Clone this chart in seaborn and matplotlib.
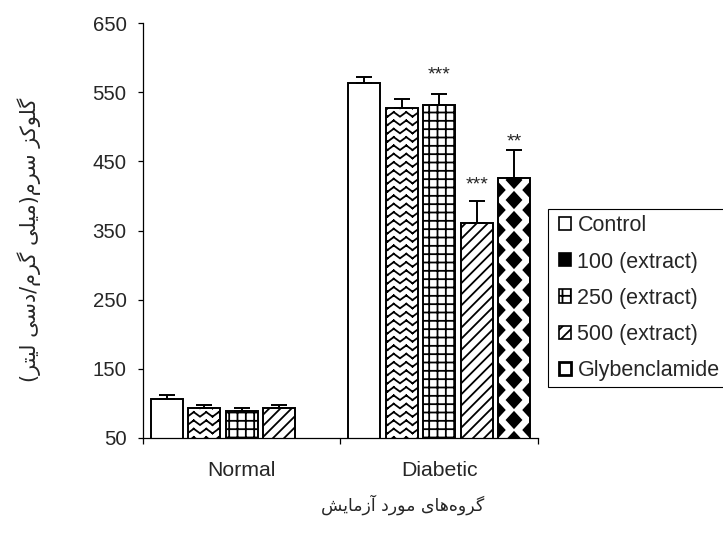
import numpy as np
import pandas as pd
import matplotlib
matplotlib.use("Agg")
import matplotlib.pyplot as plt
import seaborn as sns
from matplotlib import hatch as mhatch
from matplotlib import font_manager
from matplotlib.ft2font import FT2Font
from matplotlib.path import Path
from matplotlib.patches import Patch
from matplotlib.legend_handler import HandlerPatch

# ---------------- data ----------------
groups = ["Normal", "Diabetic"]
treatments = ["Control", "100 (extract)", "250 (extract)", "500 (extract)", "Glybenclamide"]
normal_mean = [106, 93, 88.5, 93, np.nan]
normal_err = [6, 4.5, 4.5, 4, np.nan]
diabetic_mean = [564, 528, 532, 361, 426]
diabetic_err = [8, 13, 15, 32, 40]
diabetic_sig = ["", "", "***", "***", "**"]
y_ticks = [50, 150, 250, 350, 450, 550, 650]
y_label = "گلوکز سرم(میلی گرم/دسی لیتر)"
x_label = "گروه\u200cهای مورد آزمایش"

# ---------------- Persian shaping (presentation forms, visual order) ----------------
ar_font = FT2Font(font_manager.findfont("DejaVu Sans"))


def has(cp):
    return ar_font.get_char_index(cp) != 0


FORMS = {
    "ا": (0xFE8D, 0xFE8E, None, None),
    "آ": (0xFE81, 0xFE82, None, None),
    "د": (0xFEA9, 0xFEAA, None, None),
    "ر": (0xFEAD, 0xFEAE, None, None),
    "ز": (0xFEAF, 0xFEB0, None, None),
    "و": (0xFEED, 0xFEEE, None, None),
    "ت": (0xFE95, 0xFE96, 0xFE97, 0xFE98),
    "س": (0xFEB1, 0xFEB2, 0xFEB3, 0xFEB4),
    "ش": (0xFEB5, 0xFEB6, 0xFEB7, 0xFEB8),
    "ل": (0xFEDD, 0xFEDE, 0xFEDF, 0xFEE0),
    "م": (0xFEE1, 0xFEE2, 0xFEE3, 0xFEE4),
    "ه": (0xFEE9, 0xFEEA, 0xFEEB, 0xFEEC),
    "ک": (0xFB8E, 0xFB8F, 0xFB90, 0xFB91),
    "گ": (0xFB92, 0xFB93, 0xFB94, 0xFB95),
    "ی": (0xFBFC, 0xFBFD, 0xFBFE, 0xFBFF),
}
FALLBACK = {
    "ک": (0xFED9, 0xFEDA, 0xFEDB, 0xFEDC),
    "گ": (0xFED9, 0xFEDA, 0xFEDB, 0xFEDC),
    "ی": (0xFEEF, 0xFEF0, 0xFEF3, 0xFEF4),
}
for k, v in FALLBACK.items():
    if not all(has(c) for c in FORMS[k]):
        FORMS[k] = v
RIGHT = set("اآدرزو")
DUAL = set(FORMS) - RIGHT


def shape_rtl(s):
    out = []
    for i, c in enumerate(s):
        if c not in FORMS:
            out.append(c)
            continue
        prev = s[i - 1] if i > 0 else ""
        nxt = s[i + 1] if i + 1 < len(s) else ""
        jp = prev in DUAL
        jn = c in DUAL and (nxt in DUAL or nxt in RIGHT)
        iso, fin, ini, med = FORMS[c]
        cp = med if (jp and jn) else fin if jp else ini if jn else iso
        out.append(chr(cp))
    out = [c for c in out if c != "\u200c"]
    return "".join(reversed(out)).translate(str.maketrans("()", ")("))


# ---------------- custom hatch patterns ----------------
class ZigzagHatch(mhatch.HatchPatternBase):
    def __init__(self, hatch, density):
        n = hatch.count("o")
        self.cols = 8 * n
        self.rows = 12 * n
        self.num_vertices = 0 if n == 0 else (self.rows + 2) * (2 * self.cols) * 2

    def set_vertices_and_codes(self, vertices, codes):
        half = 1.0 / (2 * self.cols)
        amp = 0.55 / self.rows
        pts = []
        for r in range(-1, self.rows + 1):
            base = r / self.rows
            for k in range(2 * self.cols):
                x0 = k * half
                ya = base + (amp if k % 2 else 0.0)
                yb = base + (0.0 if k % 2 else amp)
                pts.append((x0, ya))
                pts.append((x0 + half, yb))
        vertices[:] = np.array(pts)
        codes[0::2] = Path.MOVETO
        codes[1::2] = Path.LINETO


class DiamondHatch(mhatch.HatchPatternBase):
    x0 = 0.14

    def __init__(self, hatch, density):
        n = hatch.count("*")
        self.cols = 6 * n
        self.rows = 5 * n
        self.num_vertices = 0 if n == 0 else (self.cols + 2) * (self.rows + 2) * 5

    def set_vertices_and_codes(self, vertices, codes):
        hx, hy = 0.072, 0.078
        shape = np.array([[0, -hy], [hx, 0], [0, hy], [-hx, 0], [0, -hy]])
        sc = [Path.MOVETO, Path.LINETO, Path.LINETO, Path.LINETO, Path.CLOSEPOLY]
        parts = []
        for c in range(-1, self.cols + 1):
            x = self.x0 + c / self.cols
            shift = 0.5 / self.rows if c % 2 else 0.0
            for r in range(-1, self.rows + 1):
                parts.append(shape + [x, r / self.rows + shift])
        vertices[:] = np.concatenate(parts)
        codes[:] = sc * ((self.cols + 2) * (self.rows + 2))


mhatch._hatch_types = [t for t in mhatch._hatch_types
                       if t.__name__ not in ("SmallCircles", "Stars")] + [ZigzagHatch, DiamondHatch]

hatches = ["", "o", "++", "///", "*"]

# ---------------- style ----------------
sns.set_style("ticks")
plt.rcParams["font.family"] = ["Liberation Sans", "DejaVu Sans"]
plt.rcParams["hatch.linewidth"] = 1.3
plt.rcParams["hatch.color"] = "black"

rows = []
for g, means in zip(groups, [normal_mean, diabetic_mean]):
    for t, m in zip(treatments, means):
        rows.append({"group": g, "treatment": t, "value": m})
df = pd.DataFrame(rows).dropna()
err_table = {"Normal": normal_err, "Diabetic": diabetic_err}

fig = plt.figure(figsize=(7.23, 5.33), dpi=100)
ax = fig.add_axes([143 / 723, 1 - 437.7 / 533, 395 / 723, 414.4 / 533])

bar_width = 0.95
sns.barplot(data=df, x="group", y="value", hue="treatment", order=groups,
            hue_order=treatments, errorbar=None, width=bar_width, gap=0.15,
            palette=["white"] * 5, saturation=1, edgecolor="black",
            linewidth=1.4, legend=False, dodge=True, ax=ax)

step = bar_width / len(treatments)
ex, ey, eerr = [], [], []
sig_items = []
for p in ax.patches:
    h = p.get_height()
    if not np.isfinite(h) or p.get_width() == 0:
        continue
    cx = p.get_x() + p.get_width() / 2
    gi = int(round(cx))
    slot = int(round((cx - gi) / step + (len(treatments) - 1) / 2))
    p.set_hatch(hatches[slot])
    p.set_edgecolor("black")
    err = err_table[groups[gi]][slot]
    ex.append(cx)
    ey.append(h)
    eerr.append(err)
    if groups[gi] == "Diabetic" and diabetic_sig[slot]:
        sig_items.append((cx, h + err, diabetic_sig[slot], slot))

ax.errorbar(ex, ey, yerr=[np.zeros(len(eerr)), eerr], fmt="none", ecolor="black",
            elinewidth=1.4, capsize=5.8, capthick=1.4, zorder=1)

sig_offset = {2: 10.7, 3: 7.8, 4: 2.7}
for cx, top, lab, slot in sig_items:
    ax.annotate(lab, xy=(cx, top), xytext=(0, sig_offset[slot]), textcoords="offset points",
                ha="center", va="baseline", fontsize=14)

ax.set_xlim(-0.5, 1.5)
ax.set_ylim(50, 650)
ax.set_yticks(y_ticks)
ax.set_xticks([0, 1])
ax.set_xticklabels(groups)
ax.set_xticks([-0.5, 0.5, 1.5], minor=True)
ax.tick_params(axis="x", which="major", length=0, pad=16.5, labelsize=15.3, bottom=True)
ax.tick_params(axis="x", which="minor", length=4, width=0.9, color="black", direction="out", bottom=True)
ax.tick_params(axis="y", length=3.8, width=0.9, color="black", direction="out", pad=8, labelsize=14.7, left=True)
for s in ["top", "right"]:
    ax.spines[s].set_visible(False)
for s in ["left", "bottom"]:
    ax.spines[s].set_linewidth(0.9)
    ax.spines[s].set_color("black")

ax.set_xlabel(shape_rtl(x_label), fontsize=12.5, family=["DejaVu Sans"], va="center")
ax.xaxis.set_label_coords((403 - 143) / 395, -(505 - 437.7) / 414.4)
ax.set_ylabel(shape_rtl(y_label), fontsize=15, family=["DejaVu Sans"], va="center")
ax.yaxis.set_label_coords((29 - 143) / 395, (437.7 - 240) / 414.4)

handles = [Patch(facecolor="white", edgecolor="black", linewidth=1.2),
           Patch(facecolor="black", edgecolor="black", linewidth=1.2),
           Patch(facecolor="white", edgecolor="black", hatch="++", linewidth=1.2),
           Patch(facecolor="white", edgecolor="black", hatch="///", linewidth=1.2),
           Patch(facecolor="white", edgecolor="black", linewidth=2.0)]
leg = ax.legend(handles, treatments, loc="upper left",
                bbox_to_anchor=(548 / 723, 1 - 209 / 533), bbox_transform=fig.transFigure,
                frameon=True, fancybox=False, edgecolor="black", framealpha=1,
                fontsize=15.5, handlelength=0.79, handleheight=0.56, handletextpad=0.28,
                labelspacing=0.7, borderpad=0.3, borderaxespad=0,
                handler_map={Patch: HandlerPatch(xpad=0.23)})
leg.get_frame().set_linewidth(0.8)

fig.savefig("out.png", dpi=100)
